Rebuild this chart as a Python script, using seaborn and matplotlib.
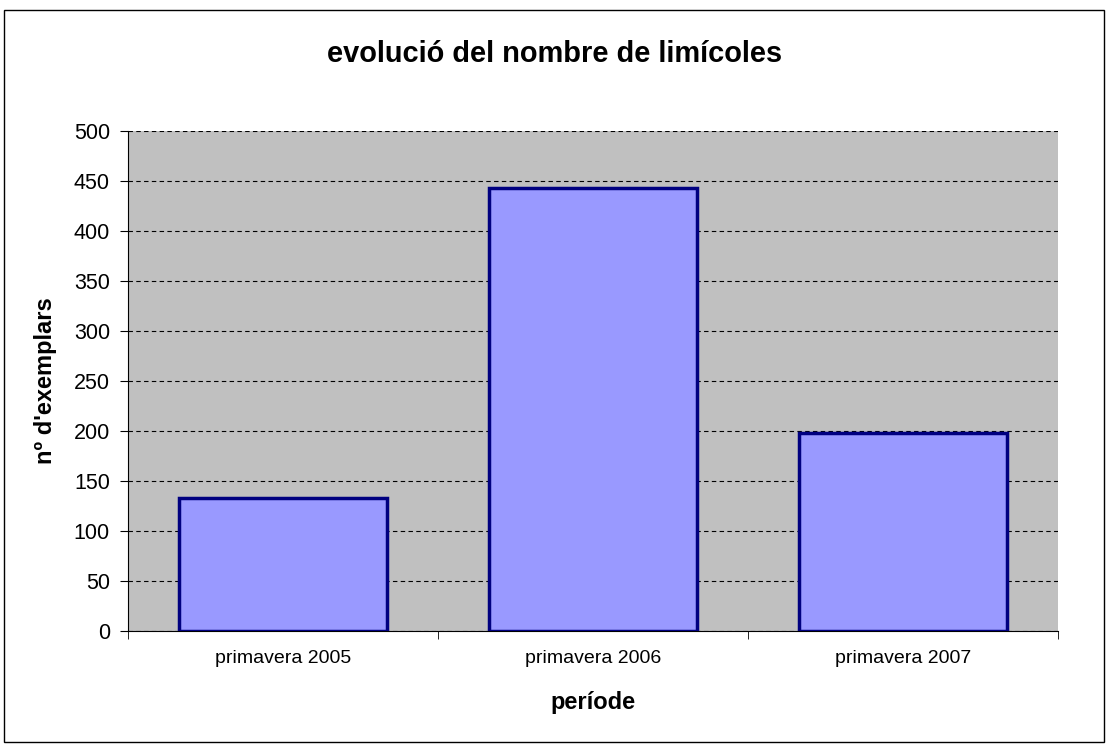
import matplotlib
matplotlib.use("Agg")
import matplotlib.pyplot as plt
import seaborn as sns
import pandas as pd
from matplotlib.patches import Rectangle

# Data
periods = ["primavera 2005", "primavera 2006", "primavera 2007"]
counts = [133, 443, 198]

df = pd.DataFrame({"periode": periods, "exemplars": counts})

sns.set_style("white")
plt.rcParams["font.family"] = ["Liberation Sans", "DejaVu Sans"]
plt.rcParams["text.color"] = "black"
plt.rcParams["axes.labelcolor"] = "black"
plt.rcParams["xtick.color"] = "black"
plt.rcParams["ytick.color"] = "black"

fig = plt.figure(figsize=(11.09, 7.46), dpi=100)
ax = fig.add_axes([128 / 1109, 115 / 746, 930 / 1109, 500 / 746])
ax.set_facecolor("#c0c0c0")

sns.barplot(data=df, x="periode", y="exemplars", ax=ax, width=0.67,
            color="#9999ff", saturation=1, edgecolor="#000080", linewidth=2.5,
            zorder=3)

ax.set_ylim(0, 500)
ax.set_xlim(-0.5, 2.5)
ax.set_yticks(range(0, 501, 50))
ax.yaxis.grid(True, color="black", linestyle=(0, (4, 3)), linewidth=0.8, zorder=1)
ax.set_axisbelow(True)

for side in ["top", "right"]:
    ax.spines[side].set_visible(False)
ax.spines["left"].set_color("black")
ax.spines["bottom"].set_color("black")

ax.tick_params(axis="y", direction="out", length=6, labelsize=15.5, left=True, pad=7)
ax.set_xticks([0, 1, 2])
ax.set_xticklabels(periods, fontsize=14)
ax.tick_params(axis="x", length=0, pad=14)
# category separator ticks
ax.set_xticks([-0.5, 0.5, 1.5, 2.5], minor=True)
ax.tick_params(axis="x", which="minor", direction="out", length=6, bottom=True)

ax.set_xlabel("període", fontsize=17, fontweight="bold", labelpad=17)
ax.set_ylabel("nº d'exemplars", fontsize=17, fontweight="bold", labelpad=12)
fig.text(0.5, 1 - 54 / 746, "evolució del nombre de limícoles", ha="center", va="center",
         fontsize=20.9, fontweight="bold")

fig.patches.append(Rectangle((4 / 1109, 4 / 746), 1100 / 1109, 732 / 746, transform=fig.transFigure,
                             fill=False, edgecolor="black", linewidth=1))

fig.savefig("out.png", dpi=100)
